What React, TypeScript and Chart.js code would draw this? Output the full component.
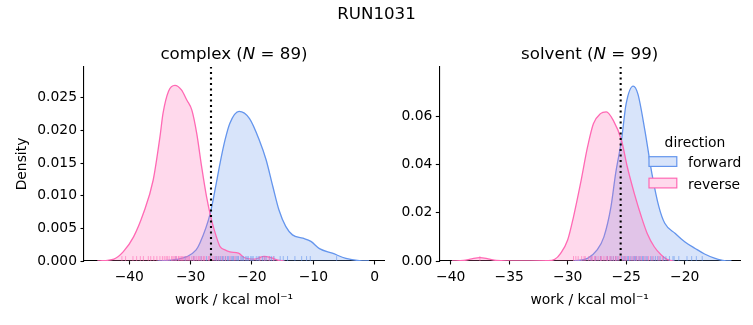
import React, { useEffect, useRef } from "react";
import { Chart, registerables } from "chart.js";

Chart.register(...registerables);

// ---------------- data ----------------
const FIG_TITLE = "RUN1031";
const X_LABEL = "work / kcal mol\u207B\u00B9";
const Y_LABEL = "Density";
const DIRECTIONS = ["forward", "reverse"];
const LEGEND_TITLE = "direction";

// complex panel
const complexName = "complex";
const complexN = 89;
const complexFwdX = [-35.4, -32.3, -30.6, -29.1, -28.5, -26.8, -25.9, -25.2, -24.4, -23.6, -22.1, -20.4, -18.8, -17.7, -16.6, -15.6, -14.5, -13.4, -11.7, -10.4, -9.0, -6.9, -4.7, -2.5, -0.9];
const complexFwdY = [0, 0.00026, 0.00066, 0.0017, 0.0027, 0.0073, 0.0115, 0.015, 0.0185, 0.0211, 0.0229, 0.0218, 0.0185, 0.0155, 0.0114, 0.0078, 0.0053, 0.004, 0.0035, 0.003, 0.0019, 0.0012, 0.0004, 0.00005, 0];
const complexRevX = [-45.2, -42.5, -41.0, -39.3, -37.7, -36.1, -35.0, -34.5, -33.6, -32.55, -31.5, -30.6, -29.8, -29.0, -28.2, -27.4, -26.6, -25.8, -25.2, -24.4, -23.6, -22.2, -21.2, -19.6, -18.0, -16.9, -15.8, -14.7];
const complexRevY = [0, 0.0003, 0.0014, 0.0037, 0.0073, 0.0124, 0.019, 0.0226, 0.026, 0.0269, 0.0262, 0.0246, 0.0231, 0.0195, 0.0144, 0.0098, 0.0063, 0.0037, 0.0022, 0.0017, 0.0014, 0.0012, 0.0005, 0.0003, 0.0007, 0.0005, 0.00015, 0];
const complexFwdRug = [-32.4, -30.9, -29.5, -28.3, -27.4, -26.8, -26.0, -25.7, -25.4, -25.1, -24.8, -24.6, -24.3, -24.0, -23.8, -23.4, -23.2, -23.0, -22.6, -22.4, -22.2, -21.8, -21.6, -21.4, -21.0, -20.8, -20.6, -20.2, -20.0, -19.8, -19.3, -19.0, -18.8, -18.3, -18.0, -17.7, -17.1, -16.8, -16.4, -15.4, -14.9, -14.2, -13.0, -11.9, -11.1, -10.5, -6.2];
const complexRevRug = [-41.2, -40.6, -39.4, -38.8, -38.2, -37.7, -36.9, -36.5, -36.0, -35.5, -35.0, -34.6, -34.3, -34.0, -33.8, -33.5, -33.1, -32.9, -32.7, -32.5, -32.3, -32.0, -31.9, -31.7, -31.5, -31.3, -31.1, -30.8, -30.6, -30.4, -30.2, -29.8, -29.5, -29.3, -29.0, -28.7, -28.5, -28.2, -27.9, -27.7, -27.1, -26.9, -26.5, -26.2, -25.8, -25.4, -24.9, -24.3, -23.6, -22.8, -18.7, -17.9, -17.2, -16.5];
const complexMeanLine = -26.68;
const complexXRange = [-47.38, 1.52];
const complexYMax = 0.0297;
const complexXTicks = [-40, -30, -20, -10, 0];
const complexYTicks = [0, 0.005, 0.01, 0.015, 0.02, 0.025];

// solvent panel
const solventName = "solvent";
const solventN = 99;
const solventFwdX = [-29.5, -28.3, -27.5, -26.9, -26.3, -25.9, -25.4, -25.0, -24.4, -24.0, -23.4, -22.8, -22.2, -21.7, -20.8, -20.0, -19.1, -18.3, -17.4, -16.6, -16.0];
const solventFwdY = [0, 0.0011, 0.0045, 0.01, 0.0224, 0.0362, 0.05, 0.0651, 0.0724, 0.0692, 0.0541, 0.0362, 0.0224, 0.0156, 0.0114, 0.008, 0.0052, 0.0029, 0.0011, 0.0001, 0];
const solventRevX = [-39.9, -38.9, -38.2, -37.5, -36.8, -36.1, -35.2, -31.7, -31.1, -30.6, -30.0, -29.5, -28.9, -28.3, -27.8, -27.2, -26.7, -26.1, -25.4, -24.9, -24.3, -23.7, -23.2, -22.6, -22.0, -21.5, -20.9];
const solventRevY = [0, 0.0002, 0.0009, 0.0014, 0.0009, 0.0002, 0, 0.0001, 0.0007, 0.0032, 0.0087, 0.0183, 0.0321, 0.0472, 0.0568, 0.061, 0.0617, 0.0582, 0.05, 0.0389, 0.0279, 0.0183, 0.0114, 0.0059, 0.0025, 0.0007, 0];
const solventFwdRug = [-28.0, -27.6, -27.2, -26.6, -26.3, -26.1, -25.9, -25.7, -25.4, -25.2, -25.1, -24.9, -24.8, -24.6, -24.4, -24.3, -24.2, -24.1, -23.9, -23.8, -23.6, -23.5, -23.3, -23.2, -22.9, -22.7, -22.5, -22.3, -22.1, -21.8, -21.6, -21.3, -21.0, -20.9, -20.5, -19.8, -19.4, -19.0, -18.5];
const solventRevRug = [-37.5, -29.5, -29.3, -29.1, -28.8, -28.6, -28.5, -28.2, -28.0, -27.9, -27.7, -27.6, -27.4, -27.2, -27.1, -26.9, -26.7, -26.6, -26.4, -26.3, -26.1, -25.9, -25.8, -25.6, -25.5, -25.3, -25.1, -25.0, -24.7, -24.5, -24.3, -24.1, -23.9, -23.7, -23.4, -23.1, -22.8, -22.2, -21.9];
const solventMeanLine = -25.47;
const solventXRange = [-40.97, -15.27];
const solventYMax = 0.0803;
const solventXTicks = [-40, -35, -30, -25, -20];
const solventYTicks = [0, 0.02, 0.04, 0.06];

// ---------------- styles ----------------
const FONT = '"DejaVu Sans", "Liberation Sans", sans-serif';
const FS = 13.89;
const TITLE_FS = 16.67;
const BLUE = "rgb(100,149,237)";
const PINK = "rgb(255,105,180)";
const BLUE_FILL = "rgba(100,149,237,0.25)";
const PINK_FILL = "rgba(255,105,180,0.25)";
const BLUE_RUG = "rgba(100,149,237,0.6)";
const PINK_RUG = "rgba(255,105,180,0.6)";
const W = 753;
const H = 325;

const minus = (v: number) => (v < 0 ? "\u2212" + String(Math.abs(v)) : String(v));

const decorPlugin = {
  id: "decor",
  afterDraw(chart: any, _args: any, opts: any) {
    const ctx = chart.ctx;
    const ca = chart.chartArea;
    ctx.save();
    ctx.fillStyle = "#000";
    ctx.textBaseline = "alphabetic";
    const parts: { t: string; i: boolean }[] = opts.titleParts || [];
    const fontOf = (i: boolean) => `${i ? "italic " : ""}${TITLE_FS}px ${FONT}`;
    let total = 0;
    parts.forEach((p) => {
      ctx.font = fontOf(p.i);
      total += ctx.measureText(p.t).width;
    });
    let x = (ca.left + ca.right) / 2 - total / 2;
    ctx.textAlign = "left";
    parts.forEach((p) => {
      ctx.font = fontOf(p.i);
      ctx.fillText(p.t, x, ca.top - 8.3);
      x += ctx.measureText(p.t).width;
    });
    if (opts.suptitle) {
      ctx.font = `${TITLE_FS}px ${FONT}`;
      ctx.textAlign = "center";
      ctx.fillText(opts.suptitle, W / 2, 18.5);
    }
    if (opts.legend) {
      const items = opts.legend as { label: string; stroke: string; fill: string }[];
      ctx.font = `${FS}px ${FONT}`;
      ctx.textAlign = "center";
      ctx.fillText(opts.legendTitle, ca.right - 45, ca.top + 79.5);
      ctx.textAlign = "left";
      items.forEach((it, k) => {
        const base = ca.top + 100 + k * 21.5;
        const px = ca.right - 91;
        ctx.fillStyle = "#fff";
        ctx.fillRect(px, base - 10.3, 27.8, 9.7);
        ctx.fillStyle = it.fill;
        ctx.fillRect(px, base - 10.3, 27.8, 9.7);
        ctx.strokeStyle = it.stroke;
        ctx.lineWidth = 1.2;
        ctx.strokeRect(px, base - 10.3, 27.8, 9.7);
        ctx.fillStyle = "#000";
        ctx.fillText(it.label, ca.right - 52, base);
      });
    }
    ctx.restore();
  },
};

type Panel = {
  name: string;
  n: number;
  fwdX: number[];
  fwdY: number[];
  revX: number[];
  revY: number[];
  fwdRug: number[];
  revRug: number[];
  mean: number;
  xRange: number[];
  yMax: number;
  xTicks: number[];
  yTicks: number[];
  yDecimals: number;
  padLeft: number;
  padRight: number;
  yAxisWidth: number;
  showYLabel: boolean;
  suptitle?: string;
  legend: boolean;
};

const zip = (xs: number[], ys: number[]) => xs.map((x, i) => ({ x, y: ys[i] }));

function makeConfig(p: Panel): any {
  const rugY = p.yMax * 0.0125;
  const tickFont = { family: FONT, size: FS };
  return {
    type: "line",
    data: {
      datasets: [
        {
          label: "mean",
          data: [
            { x: p.mean, y: 0 },
            { x: p.mean, y: p.yMax },
          ],
          borderColor: "#000",
          borderWidth: 2.1,
          borderDash: [2.1, 3.4],
          pointRadius: 0,
          fill: false,
          order: 0,
        },
        {
          label: DIRECTIONS[1] + " rug",
          data: p.revRug.map((x) => ({ x, y: rugY })),
          showLine: false,
          pointStyle: "line",
          rotation: 90,
          pointRadius: 2.5,
          pointBorderWidth: 1,
          pointBorderColor: PINK_RUG,
          borderColor: PINK_RUG,
          order: 1,
        },
        {
          label: DIRECTIONS[0] + " rug",
          data: p.fwdRug.map((x) => ({ x, y: rugY })),
          showLine: false,
          pointStyle: "line",
          rotation: 90,
          pointRadius: 2.5,
          pointBorderWidth: 1,
          pointBorderColor: BLUE_RUG,
          borderColor: BLUE_RUG,
          order: 2,
        },
        {
          label: DIRECTIONS[1],
          data: zip(p.revX, p.revY),
          borderColor: PINK,
          backgroundColor: PINK_FILL,
          borderWidth: 1.3,
          pointRadius: 0,
          fill: "origin",
          cubicInterpolationMode: "monotone",
          order: 3,
        },
        {
          label: DIRECTIONS[0],
          data: zip(p.fwdX, p.fwdY),
          borderColor: BLUE,
          backgroundColor: BLUE_FILL,
          borderWidth: 1.3,
          pointRadius: 0,
          fill: "origin",
          cubicInterpolationMode: "monotone",
          order: 4,
        },
      ],
    },
    options: {
      responsive: false,
      animation: false,
      devicePixelRatio: 1,
      events: [],
      layout: { padding: { left: p.padLeft, right: p.padRight, top: 67, bottom: 0 } },
      plugins: {
        legend: { display: false },
        tooltip: { enabled: false },
        title: { display: false },
        decor: {
          titleParts: [
            { t: p.name + " (", i: false },
            { t: "N", i: true },
            { t: " = " + p.n + ")", i: false },
          ],
          suptitle: p.suptitle,
          legend: p.legend
            ? [
                { label: DIRECTIONS[0], stroke: BLUE, fill: BLUE_FILL },
                { label: DIRECTIONS[1], stroke: PINK, fill: PINK_FILL },
              ]
            : null,
          legendTitle: LEGEND_TITLE,
        },
      },
      scales: {
        x: {
          type: "linear",
          min: p.xRange[0],
          max: p.xRange[1],
          afterBuildTicks: (s: any) => {
            s.ticks = p.xTicks.map((v) => ({ value: v }));
          },
          afterFit: (s: any) => {
            s.height = H - 261;
          },
          ticks: {
            callback: (v: any) => minus(Number(v)),
            padding: 5,
            color: "#000",
            font: tickFont,
            maxRotation: 0,
            autoSkip: false,
          },
          grid: { display: true, drawOnChartArea: false, drawTicks: true, tickLength: 3.5, tickColor: "#000", tickWidth: 1.1 },
          border: { display: true, color: "#000", width: 1.1 },
          title: {
            display: true,
            text: X_LABEL,
            color: "#000",
            font: tickFont,
            padding: { top: 0, bottom: 16.5 },
          },
        },
        y: {
          type: "linear",
          min: 0,
          max: p.yMax,
          afterBuildTicks: (s: any) => {
            s.ticks = p.yTicks.map((v) => ({ value: v }));
          },
          afterFit: (s: any) => {
            s.width = p.yAxisWidth;
          },
          ticks: {
            callback: (v: any) => Number(v).toFixed(p.yDecimals),
            padding: 3.5,
            color: "#000",
            font: tickFont,
          },
          grid: { display: true, drawOnChartArea: false, drawTicks: true, tickLength: 3.5, tickColor: "#000", tickWidth: 1.1 },
          border: { display: true, color: "#000", width: 1.1 },
          title: {
            display: p.showYLabel,
            text: Y_LABEL,
            color: "#000",
            font: tickFont,
            padding: { top: 13.7, bottom: 0 },
          },
        },
      },
    },
    plugins: [decorPlugin],
  };
}

const complexPanel: Panel = {
  name: complexName,
  n: complexN,
  fwdX: complexFwdX,
  fwdY: complexFwdY,
  revX: complexRevX,
  revY: complexRevY,
  fwdRug: complexFwdRug,
  revRug: complexRevRug,
  mean: complexMeanLine,
  xRange: complexXRange,
  yMax: complexYMax,
  xTicks: complexXTicks,
  yTicks: complexYTicks,
  yDecimals: 3,
  padLeft: 0,
  padRight: W - 384,
  yAxisWidth: 84,
  showYLabel: true,
  suptitle: FIG_TITLE,
  legend: false,
};

const solventPanel: Panel = {
  name: solventName,
  n: solventN,
  fwdX: solventFwdX,
  fwdY: solventFwdY,
  revX: solventRevX,
  revY: solventRevY,
  fwdRug: solventFwdRug,
  revRug: solventRevRug,
  mean: solventMeanLine,
  xRange: solventXRange,
  yMax: solventYMax,
  xTicks: solventXTicks,
  yTicks: solventYTicks,
  yDecimals: 2,
  padLeft: 390,
  padRight: W - 740,
  yAxisWidth: 49.3,
  showYLabel: false,
  legend: true,
};

function PanelCanvas({ panel }: { panel: Panel }) {
  const ref = useRef<HTMLCanvasElement | null>(null);
  useEffect(() => {
    if (!ref.current) return;
    const chart = new Chart(ref.current, makeConfig(panel));
    return () => chart.destroy();
  }, [panel]);
  return (
    <canvas
      ref={ref}
      width={W}
      height={H}
      style={{ position: "absolute", left: 0, top: 0, width: W, height: H }}
    />
  );
}

export default function App() {
  return (
    <div style={{ position: "fixed", left: 0, top: 0, width: W, height: H, background: "#fff" }}>
      <PanelCanvas panel={complexPanel} />
      <PanelCanvas panel={solventPanel} />
    </div>
  );
}
